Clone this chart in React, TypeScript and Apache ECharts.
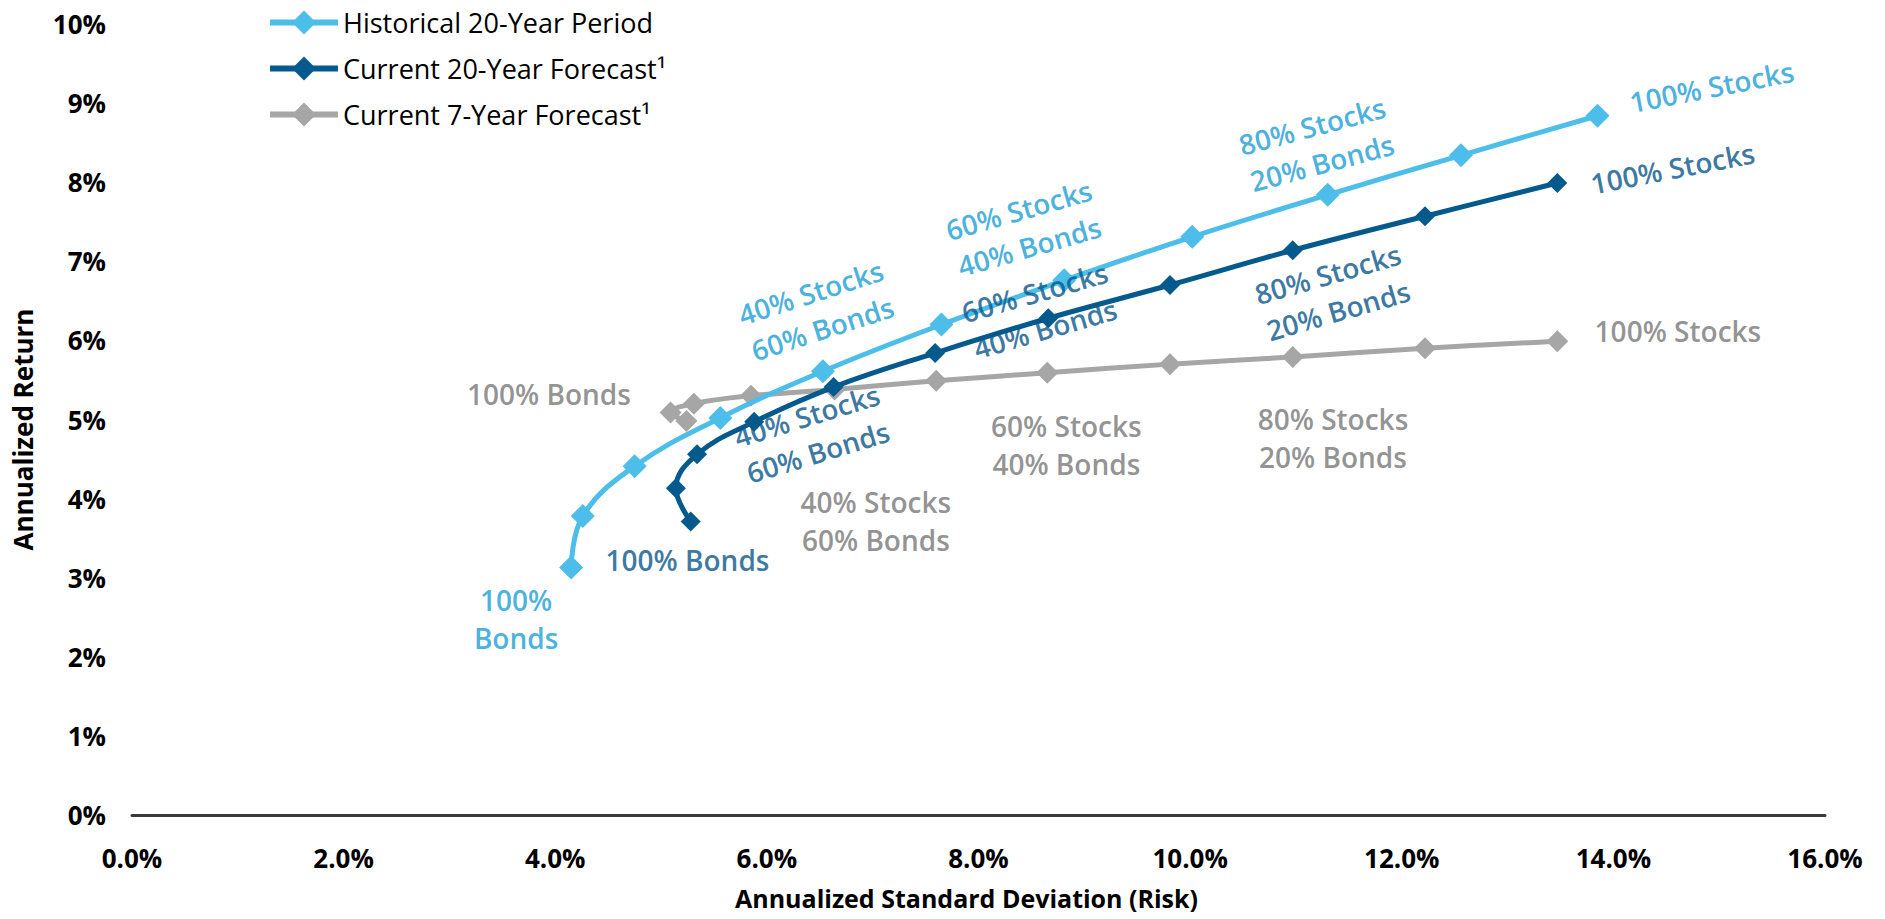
import React, { useEffect, useRef } from "react";
import * as echarts from "echarts";

// Portfolio mixes: 0% stocks (100% bonds) ... 100% stocks, in 10% steps
const histRisk = [4.15, 4.26, 4.75, 5.56, 6.53, 7.65, 8.81, 10.02, 11.3, 12.56, 13.85];
const histReturn = [3.13, 3.78, 4.41, 5.02, 5.61, 6.2, 6.76, 7.31, 7.84, 8.34, 8.84];
const cur20Risk = [5.28, 5.14, 5.34, 5.88, 6.63, 7.59, 8.66, 9.81, 10.97, 12.22, 13.47];
const cur20Return = [3.71, 4.13, 4.56, 4.97, 5.41, 5.84, 6.28, 6.7, 7.14, 7.57, 7.99];
const cur7Risk = [5.24, 5.09, 5.31, 5.85, 6.64, 7.6, 8.65, 9.81, 10.97, 12.22, 13.47];
const cur7Return = [4.98, 5.09, 5.2, 5.3, 5.38, 5.49, 5.59, 5.7, 5.79, 5.9, 5.99];

const seriesNames = ["Historical 20-Year Period", "Current 20-Year Forecast¹", "Current 7-Year Forecast¹"];
const xTicks = [0, 2, 4, 6, 8, 10, 12, 14, 16];
const yTicks = [0, 1, 2, 3, 4, 5, 6, 7, 8, 9, 10];

// Annotation texts and their anchor (risk, return) positions
const histNotes = ["100% Stocks", "80% Stocks\n20% Bonds", "60% Stocks\n40% Bonds", "40% Stocks\n60% Bonds", "100%\nBonds"];
const histNoteX = [14.93, 11.2, 8.43, 6.47, 3.63];
const histNoteY = [9.21, 8.48, 7.42, 6.38, 2.48];
const histNoteRot = [11, 15, 16, 18, 0];

const cur20Notes = ["100% Stocks", "80% Stocks\n20% Bonds", "60% Stocks\n40% Bonds", "40% Stocks\n60% Bonds", "100% Bonds"];
const cur20NoteX = [14.56, 11.35, 8.58, 6.43, 5.25];
const cur20NoteY = [8.18, 6.61, 6.38, 4.82, 3.22];
const cur20NoteRot = [11, 16, 16, 17, 0];

const cur7Notes = ["100% Stocks", "80% Stocks\n20% Bonds", "60% Stocks\n40% Bonds", "40% Stocks\n60% Bonds", "100% Bonds"];
const cur7NoteX = [14.61, 11.35, 8.83, 7.03, 3.94];
const cur7NoteY = [6.12, 4.76, 4.68, 3.72, 5.32];

const FONT = "'Open Sans', Lato, sans-serif";
const C_HIST = "#4dbde9";
const C_HIST_T = "#1a9dd6";
const C_CUR20 = "#045a8d";
const C_CUR20_T = "#07568a";
const C_CUR7 = "#a6a6a6";
const C_CUR7_T = "#777777";

function zip(xs: number[], ys: number[]) {
  return xs.map((x, i) => [x, ys[i]]);
}

function noteSeries(texts: string[], xs: number[], ys: number[], rots: number[] | null, color: string) {
  return {
    type: "scatter",
    silent: true,
    symbolSize: 0,
    z: 10,
    data: texts.map((t, i) => ({
      value: [xs[i], ys[i]],
      name: t,
      label: { rotate: rots ? rots[i] : 0 },
    })),
    label: {
      show: true,
      position: "inside",
      formatter: (p: any) => p.name,
      color,
      fontFamily: FONT,
      fontSize: 28,
      fontWeight: 600,
      lineHeight: 38,
      align: "center",
    },
  };
}

export default function App() {
  const ref = useRef<HTMLDivElement>(null);
  useEffect(() => {
    if (!ref.current) return;
    document.body.style.margin = "0";
    const chart = echarts.init(ref.current, null, { renderer: "svg" });
    const lineCommon = {
      type: "line",
      smooth: 0.4,
      symbol: "diamond",
      z: 3,
    };
    const tickLabel = { fontFamily: FONT, fontSize: 26, fontWeight: "bold", color: "#000" };
    const axisTitle = { fontFamily: FONT, fontSize: 25, fontWeight: "bold", color: "#000" };
    chart.setOption({
      animation: false,
      textStyle: { fontFamily: FONT },
      grid: { left: 132, right: 60, top: 24, bottom: 104, containLabel: false },
      legend: {
        data: seriesNames,
        orient: "vertical",
        left: 262,
        top: 4,
        itemWidth: 68,
        itemHeight: 30,
        itemGap: 19,
        lineStyle: { width: 6 },
        textStyle: { fontFamily: FONT, fontSize: 27, color: "#000" },
      },
      xAxis: {
        type: "value",
        min: xTicks[0],
        max: xTicks[xTicks.length - 1],
        interval: 2,
        name: "Annualized Standard Deviation (Risk)",
        nameLocation: "middle",
        nameGap: 70,
        nameTextStyle: { ...axisTitle, padding: [0, 24, 0, 0] },
        axisLine: { show: true, lineStyle: { color: "#3a3a3a", width: 3 } },
        axisTick: { show: false },
        splitLine: { show: false },
        axisLabel: { ...tickLabel, margin: 30, formatter: (v: number) => v.toFixed(1) + "%" },
      },
      yAxis: {
        type: "value",
        min: yTicks[0],
        max: yTicks[yTicks.length - 1],
        interval: 1,
        name: "Annualized Return",
        nameLocation: "middle",
        nameGap: 96,
        nameTextStyle: { ...axisTitle, fontSize: 26, padding: [0, 20, 0, 0] },
        axisLine: { show: false },
        axisTick: { show: false },
        splitLine: { show: false },
        axisLabel: { ...tickLabel, margin: 26, formatter: (v: number) => v + "%" },
      },
      series: [
        { ...lineCommon, name: seriesNames[0], symbolSize: 24, data: zip(histRisk, histReturn), itemStyle: { color: C_HIST }, lineStyle: { width: 5, color: C_HIST }, z: 3 },
        { ...lineCommon, name: seriesNames[1], symbolSize: 20, data: zip(cur20Risk, cur20Return), itemStyle: { color: C_CUR20 }, lineStyle: { width: 5, color: C_CUR20 }, z: 4 },
        { ...lineCommon, name: seriesNames[2], symbolSize: 22, data: zip(cur7Risk, cur7Return), itemStyle: { color: C_CUR7 }, lineStyle: { width: 5, color: C_CUR7 }, z: 2 },
        noteSeries(histNotes, histNoteX, histNoteY, histNoteRot, C_HIST_T),
        noteSeries(cur20Notes, cur20NoteX, cur20NoteY, cur20NoteRot, C_CUR20_T),
        noteSeries(cur7Notes, cur7NoteX, cur7NoteY, null, C_CUR7_T),
      ],
    });
    return () => chart.dispose();
  }, []);
  return <div ref={ref} style={{ width: 1885, height: 919 }} />;
}
